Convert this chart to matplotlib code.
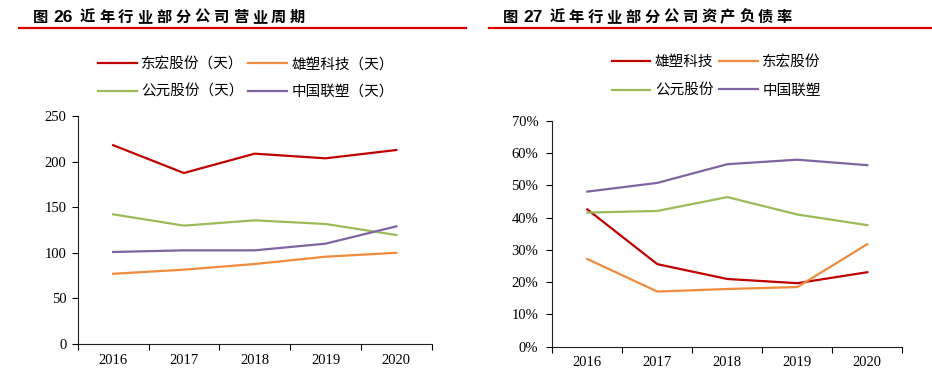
import matplotlib
matplotlib.use("Agg")
import matplotlib.pyplot as plt
from matplotlib.ticker import FuncFormatter
import numpy as np

# 数据
years = ["2016", "2017", "2018", "2019", "2020"]

# 图26 营业周期（天）
cycle_dh = [218, 187.5, 208.7, 203.6, 212.7]     # 东宏股份
cycle_xs = [77, 81.5, 87.7, 95.7, 100]           # 雄塑科技
cycle_gy = [142.2, 129.8, 135.6, 131.6, 119.5]   # 公元股份
cycle_zg = [100.9, 102.7, 102.7, 110, 129]       # 中国联塑

# 图27 资产负债率（%）
debt_xs = [42.6, 25.6, 21.0, 19.7, 23.1]   # 雄塑科技
debt_dh = [27.2, 17.1, 17.9, 18.5, 31.8]   # 东宏股份
debt_gy = [41.6, 42.1, 46.4, 41.0, 37.7]   # 公元股份
debt_zg = [48.1, 50.8, 56.6, 58.0, 56.3]   # 中国联塑

RED = "#C00000"
ORANGE = "#F08A3C"
GREEN = "#9BBB59"
PURPLE = "#8064A2"
CJK = ["Noto Sans CJK SC", "DejaVu Sans"]
SERIF = "Liberation Serif"

W, H = 932, 376
fig = plt.figure(figsize=(W / 100, H / 100), dpi=100)


def px(x, y):
    # 像素坐标 -> figure 坐标
    return x / W, 1 - y / H


def title(x0, num, text, pitch):
    # 标题逐字排开，模仿原图的字距
    fig.text(*px(x0, 17), "图", fontsize=11, fontweight="bold",
             family=CJK, va="center", ha="left")
    fig.text(*px(x0 + 20, 17), num, fontsize=12.5, fontweight="bold",
             family=["Liberation Sans"], va="center", ha="left")
    for i, ch in enumerate(text):
        fig.text(*px(x0 + 47 + i * pitch, 17), ch, fontsize=11,
                 fontweight="bold", family=CJK, va="center", ha="left")


def underline(x1, x2):
    fig.add_artist(plt.Line2D([x1 / W, x2 / W], [1 - 27.7 / H] * 2,
                              color="#E00000", lw=1.6))


def style_axes(ax, ylim, yticks, ypad):
    x = np.arange(len(years))
    ax.set_xlim(-0.5, len(years) - 0.5)
    ax.set_ylim(*ylim)
    ax.set_yticks(yticks)
    ax.set_xticks(np.arange(-0.5, len(years)), labels=[""] * (len(years) + 1))
    ax.set_xticks(x, labels=years, minor=True)
    ax.tick_params(axis="x", which="major", direction="out", length=4, width=0.8)
    ax.tick_params(axis="x", which="minor", length=0, pad=7)
    ax.tick_params(axis="y", direction="out", length=4, width=0.8, pad=ypad)
    for lab in ax.get_xticklabels(minor=True) + ax.get_yticklabels():
        lab.set_fontfamily(SERIF)
        lab.set_fontsize(10.5)
    for s in ["top", "right"]:
        ax.spines[s].set_visible(False)
    for s in ["left", "bottom"]:
        ax.spines[s].set_linewidth(0.8)
        ax.spines[s].set_color("#222222")


# ---------------- 图26 ----------------
title(33, "26", "近年行业部分公司营业周期", 19.1)
underline(19, 466)

ax1 = fig.add_axes([77.7 / W, 1 - 344 / H, (431.7 - 77.7) / W, (344 - 116) / H])
x = np.arange(len(years))
l1, = ax1.plot(x, cycle_dh, color=RED, lw=1.6, label="东宏股份（天）")
l2, = ax1.plot(x, cycle_xs, color=ORANGE, lw=1.6, label="雄塑科技（天）")
l3, = ax1.plot(x, cycle_gy, color=GREEN, lw=1.6, label="公元股份（天）")
l4, = ax1.plot(x, cycle_zg, color=PURPLE, lw=1.6, label="中国联塑（天）")
style_axes(ax1, (0, 250), range(0, 251, 50), 4)

ax1.legend(handles=[l1, l3, l2, l4], loc="upper left",
           bbox_to_anchor=px(98, 57), bbox_transform=fig.transFigure,
           ncol=2, frameon=False, prop={"family": CJK, "size": 10.5},
           handlelength=2.67, handletextpad=0.3, columnspacing=0.3,
           labelspacing=0.95, borderpad=0, borderaxespad=0)

# ---------------- 图27 ----------------
title(503, "27", "近年行业部分公司资产负债率", 18.9)
underline(489, 932)

ax2 = fig.add_axes([552.3 / W, 1 - 346.7 / H, (902.3 - 552.3) / W, (346.7 - 121) / H])
m1, = ax2.plot(x, debt_xs, color=RED, lw=1.6, label="雄塑科技")
m2, = ax2.plot(x, debt_dh, color=ORANGE, lw=1.6, label="东宏股份")
m3, = ax2.plot(x, debt_gy, color=GREEN, lw=1.6, label="公元股份")
m4, = ax2.plot(x, debt_zg, color=PURPLE, lw=1.6, label="中国联塑")
style_axes(ax2, (0, 70), range(0, 71, 10), 6)
ax2.yaxis.set_major_formatter(FuncFormatter(lambda v, p: "%d%%" % v))
for lab in ax2.get_yticklabels():
    lab.set_fontfamily(SERIF)
    lab.set_fontsize(10.5)

ax2.legend(handles=[m1, m3, m2, m4], loc="upper left",
           bbox_to_anchor=px(611.5, 55), bbox_transform=fig.transFigure,
           ncol=2, frameon=False, prop={"family": CJK, "size": 10.5},
           handlelength=2.67, handletextpad=0.3, columnspacing=0.38,
           labelspacing=1.0, borderpad=0, borderaxespad=0)

fig.savefig("out.png", dpi=100)
